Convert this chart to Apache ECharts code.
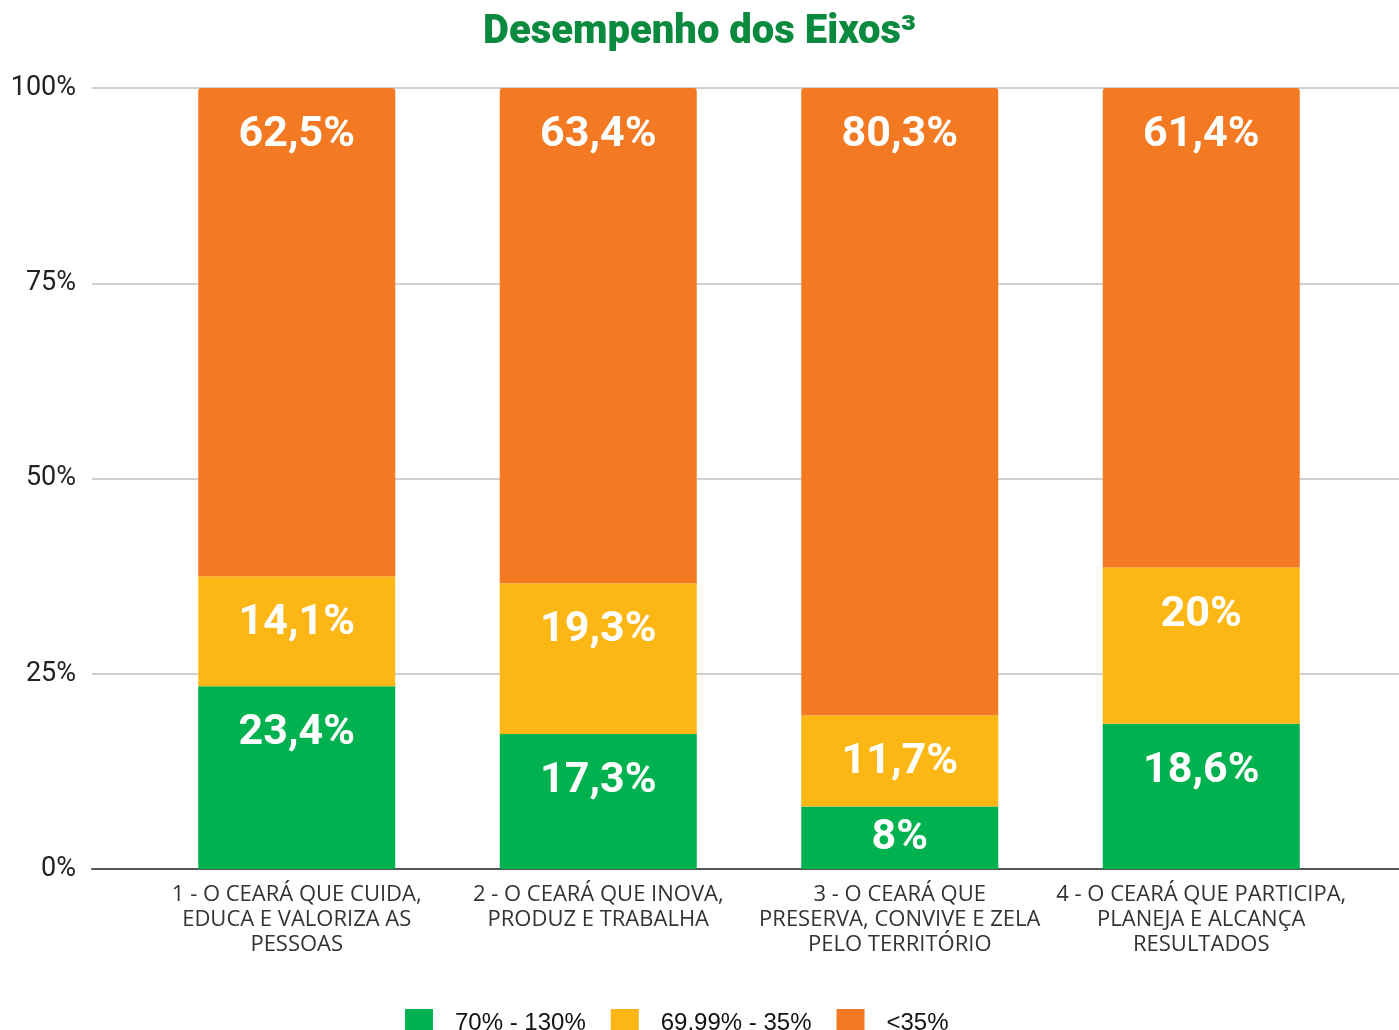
<!DOCTYPE html>
<html>
<head>
<meta charset="utf-8">
<script src="https://cdn.jsdelivr.net/npm/echarts@6/dist/echarts.min.js"></script>
<style>
  html, body { margin: 0; padding: 0; background: #fff; }
  #chart { width: 1399px; height: 1030px; }
</style>
</head>
<body>
<div id="chart"></div>
<script>
var categories = [
    '1 - O CEARÁ QUE CUIDA,\nEDUCA E VALORIZA AS\nPESSOAS',
    '2 - O CEARÁ QUE INOVA,\nPRODUZ E TRABALHA',
    '3 - O CEARÁ QUE\nPRESERVA, CONVIVE E ZELA\nPELO TERRITÓRIO',
    '4 - O CEARÁ QUE PARTICIPA,\nPLANEJA E ALCANÇA\nRESULTADOS'
];
var seriesNames = ['70% - 130%', '69.99% - 35%', '<35%'];
var greenValues = [23.4, 17.3, 8, 18.6];
var yellowValues = [14.1, 19.3, 11.7, 20];
var orangeValues = [62.5, 63.4, 80.3, 61.4];
var yTicks = [0, 25, 50, 75, 100];

try {
    var chart = echarts.init(document.getElementById('chart'));
    var colors = ['#00b14f', '#fdb714', '#f37a22'];

    function fmt(v) {
        return String(v).replace('.', ',') + '%';
    }

    // small segments get the label centred, the rest sit near the top
    function toData(values) {
        return values.map(function (v) {
            var item = { value: v };
            if (v < 10) item.label = { position: 'inside', distance: 0 };
            return item;
        });
    }

    var labelStyle = {
        show: true,
        position: 'insideTop',
        distance: 26,
        color: '#fff',
        fontFamily: 'Roboto',
        fontWeight: 'bold',
        fontSize: 43,
        formatter: function (p) { return fmt(p.value); }
    };

    var allValues = [greenValues, yellowValues, orangeValues];
    var series = allValues.map(function (vals, i) {
        return {
            name: seriesNames[i],
            type: 'bar',
            stack: 'total',
            xAxisIndex: 0,
            yAxisIndex: 0,
            barWidth: 197,
            itemStyle: {
                color: colors[i],
                borderRadius: i === 2 ? [3, 3, 0, 0] : 0
            },
            label: labelStyle,
            data: toData(vals)
        };
    });

    var option = {
        animation: false,
        backgroundColor: '#fff',
        title: {
            text: 'Desempenho dos Eixos³',
            left: 'center',
            top: 8,
            textStyle: {
                color: '#0a8a3e',
                fontFamily: 'Roboto',
                fontWeight: 900,
                fontSize: 40
            }
        },
        legend: {
            data: seriesNames,
            top: 1004,
            left: 400,
            itemWidth: 28,
            itemHeight: 28,
            itemGap: 25,
            icon: 'rect',
            textStyle: {
                fontFamily: 'Liberation Sans',
                fontSize: 24,
                color: '#111',
                padding: [6, 0, 0, 17]
            }
        },
        grid: [
            { left: 146, right: 47, top: 88, bottom: 161 },
            { left: 92, right: 0, top: 88, bottom: 161 }
        ],
        xAxis: [
            {
                type: 'category',
                gridIndex: 0,
                data: categories,
                axisLine: { show: false },
                axisTick: { show: false },
                axisLabel: {
                    margin: 13,
                    interval: 0,
                    color: '#333',
                    fontFamily: 'Open Sans',
                    fontSize: 22,
                    lineHeight: 25
                }
            },
            {
                type: 'value',
                gridIndex: 1,
                min: 0,
                max: 1,
                axisLine: { show: true, lineStyle: { color: '#555', width: 2 } },
                axisTick: { show: false },
                axisLabel: { show: false },
                splitLine: { show: false }
            }
        ],
        yAxis: [
            {
                type: 'value',
                gridIndex: 0,
                min: yTicks[0],
                max: yTicks[yTicks.length - 1],
                interval: 25,
                show: false
            },
            {
                type: 'value',
                gridIndex: 1,
                min: yTicks[0],
                max: yTicks[yTicks.length - 1],
                interval: 25,
                axisLine: { show: false },
                axisTick: { show: false },
                axisLabel: {
                    margin: 16,
                    color: '#222',
                    fontFamily: 'Roboto',
                    fontSize: 27,
                    formatter: '{value}%'
                },
                splitLine: { lineStyle: { color: '#d0d0d0', width: 2 } }
            }
        ],
        series: series
    };
    chart.setOption(option);
} catch (error) {
    console.error('Failed to draw chart');
    console.error(error);
}
</script>
</body>
</html>
